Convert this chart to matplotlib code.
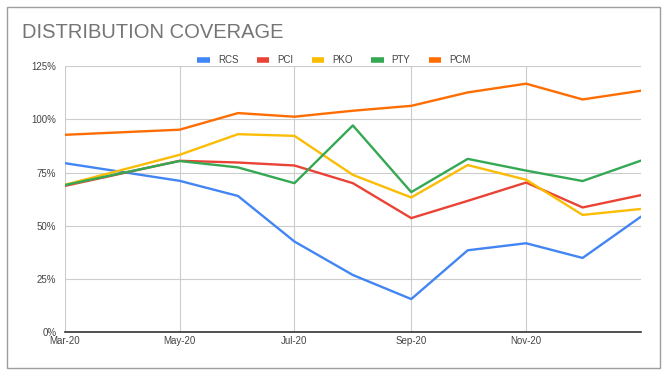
import matplotlib
matplotlib.use("Agg")
import matplotlib.pyplot as plt
import matplotlib.dates as mdates
from matplotlib.patches import Rectangle
from matplotlib.ticker import FuncFormatter
import datetime as dt

plt.rcParams['font.family'] = ['Liberation Sans', 'DejaVu Sans']

months = ["2020-03", "2020-05", "2020-06", "2020-07", "2020-08", "2020-09",
          "2020-10", "2020-11", "2020-12", "2021-01"]
rcs = [79.4, 71.1, 64.0, 42.6, 26.9, 15.6, 38.5, 41.8, 34.9, 54.3]
pci = [68.7, 80.5, 79.7, 78.3, 70.0, 53.6, 61.7, 70.3, 58.6, 64.4]
pko = [69.2, 83.3, 93.0, 92.2, 73.9, 63.3, 78.5, 71.6, 55.1, 57.9]
pty = [69.1, 80.4, 77.4, 70.0, 97.1, 65.8, 81.4, 75.9, 71.0, 80.6]
pcm = [92.7, 95.1, 102.9, 101.2, 104.0, 106.3, 112.6, 116.7, 109.3, 113.4]
series_names = ["RCS", "PCI", "PKO", "PTY", "PCM"]
series_vals = [rcs, pci, pko, pty, pcm]
colors = ["#4285F4", "#EA4335", "#FBBC04", "#34A853", "#FF6D01"]
tick_months = ["2020-03", "2020-05", "2020-07", "2020-09", "2020-11"]
y_ticks = [0, 25, 50, 75, 100, 125]

dates = [dt.datetime.strptime(m, "%Y-%m") for m in months]
tdates = [dt.datetime.strptime(m, "%Y-%m") for m in tick_months]

W, H = 667, 376
fig = plt.figure(figsize=(W / 100, H / 100), dpi=100)
fig.patch.set_facecolor("white")
fig.add_artist(Rectangle((6.5 / W, 1 - 368 / H), 653 / W, 361 / H,
                         transform=fig.transFigure, fill=False,
                         edgecolor="#9e9e9e", linewidth=1.0))

ax = fig.add_axes([64.7 / W, 1 - 332.3 / H, (641 - 64.7) / W, (332.3 - 66) / H])
for name, vals, c in zip(series_names, series_vals, colors):
    ax.plot(dates, vals, color=c, linewidth=1.7, label=name, solid_capstyle='round',
            solid_joinstyle='round')

ax.set_xlim(dates[0], dates[-1])
ax.set_ylim(0, 125)
ax.set_yticks(y_ticks)
ax.yaxis.set_major_formatter(FuncFormatter(lambda v, p: f"{int(v)}%"))
ax.set_xticks(tdates)
ax.xaxis.set_major_formatter(mdates.DateFormatter("%b-%y"))
ax.grid(True, color="#cccccc", linewidth=0.8)
ax.set_axisbelow(True)
for s in ["top", "right", "left"]:
    ax.spines[s].set_visible(False)
ax.spines["bottom"].set_color("#333333")
ax.spines["bottom"].set_linewidth(1.2)
ax.spines["bottom"].set_zorder(3)
ax.tick_params(axis="both", length=0, labelsize=7, colors="#444444")
ax.tick_params(axis="y", pad=6)
ax.tick_params(axis="x", pad=3)

fig.text(22 / W, 1 - 32 / H, "DISTRIBUTION COVERAGE", fontsize=14.5, color="#757575",
         va="center", ha="left")

leg = fig.legend(loc="center", bbox_to_anchor=(334 / W, 1 - 60 / H), ncol=5,
                 frameon=False, fontsize=7, handlelength=1.3, handleheight=0.4,
                 columnspacing=1.9, handletextpad=0.8)
for t in leg.get_texts():
    t.set_color("#444444")
for h in leg.get_lines():
    h.set_linewidth(4)
    h.set_solid_capstyle('butt')

fig.savefig("out.png", dpi=100)
